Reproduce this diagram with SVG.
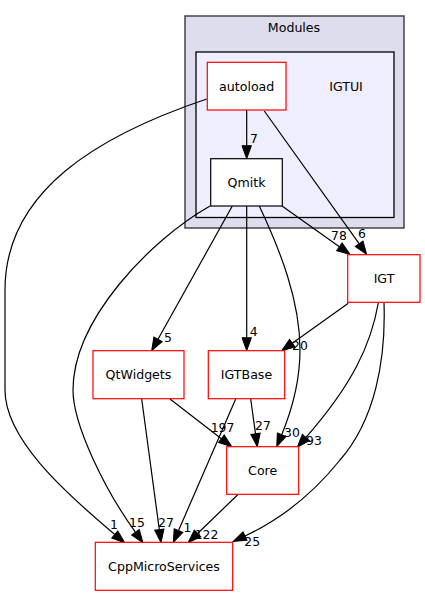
<svg xmlns="http://www.w3.org/2000/svg" width="425" height="596" viewBox="0 0 425 596">
<style>
text{font-family:"DejaVu Sans","Liberation Sans",sans-serif;fill:#000}
.nl{font-size:12.6px;text-anchor:middle}
.el{font-size:12.4px;text-anchor:middle}
.node{fill:#fff;stroke:#f00;stroke-width:1.2}
.nodeb{fill:#fff;stroke:#000;stroke-width:1.2}
.e{fill:none;stroke:#000;stroke-width:1.2;marker-end:url(#ah)}
</style>
<defs>
<marker id="ah" markerUnits="userSpaceOnUse" markerWidth="13" markerHeight="9.4" viewBox="0 0 13 9.4" refX="0" refY="4.7" orient="auto" overflow="visible">
<path d="M0,0 L13,4.7 L0,9.4 z" fill="#000" stroke="#000" stroke-width="1"/>
</marker>
</defs>
<g id="cluster-modules">
<rect x="185" y="16" width="219" height="212" fill="#ddddee" stroke="#444" stroke-width="1.5"/>
<text class="nl" x="294" y="32">Modules</text>
</g>
<g id="cluster-igtui">
<rect x="196" y="52" width="198" height="165.5" fill="#eeeeff" stroke="#000" stroke-width="1.3"/>
<text class="nl" x="346" y="90.7">IGTUI</text>
</g>
<g id="connectors">
<path class="e" d="M246.7,110 L246.7,145.7"/>
<text class="el" x="254" y="143.3">7</text>
<path class="e" d="M264.3,111 L359.1,243.7"/>
<text class="el" x="362" y="238.3">6</text>
<path class="e" d="M206.7,99 C100,135 5,190 5,290 L5,390 C5,438 62,490 114.8,534.5"/>
<text class="el" x="114" y="529">1</text>
<path class="e" d="M282,206 L339.4,246.8"/>
<text class="el" x="339" y="239.5">78</text>
<path class="e" d="M232.3,206 L158,339.3"/>
<text class="el" x="168" y="341.7">5</text>
<path class="e" d="M246.7,206 L246.7,337.7"/>
<text class="el" x="253.7" y="336">4</text>
<path class="e" d="M259.3,206 C280,250 300,300 300,350 C300,385 289,417 281.7,434.7"/>
<text class="el" x="292" y="437.3">30</text>
<path class="e" d="M210,206 C150,240 73,320 73,390 C73,425 105,490 135.4,532.2"/>
<text class="el" x="137" y="526.7">15</text>
<path class="e" d="M348.3,303.3 L292.3,343.2"/>
<text class="el" x="300" y="350">20</text>
<path class="e" d="M378.3,303 C371,345 352,385 305.9,437.5"/>
<text class="el" x="314" y="445.3">93</text>
<path class="e" d="M384,303 C386,360 375,420 340,460 C320,485 290,515 245,536"/>
<text class="el" x="252.2" y="546">25</text>
<path class="e" d="M170,399 L221.4,438.7"/>
<text class="el" x="222.5" y="432.3">197</text>
<path class="e" d="M141.7,399 L159.3,529.6"/>
<text class="el" x="166" y="527.3">27</text>
<path class="e" d="M250.7,399 L255.5,433.8"/>
<text class="el" x="263" y="430">27</text>
<path class="e" d="M235.7,399 L178.5,530.6"/>
<text class="el" x="187.5" y="532.3">1</text>
<path class="e" d="M237.7,494.7 L197.6,533.5"/>
<text class="el" x="206.5" y="539.3">122</text>
</g>
<g id="node-autoload">
<rect class="node" x="207.3" y="62.3" width="78.7" height="47.7"/>
<text class="nl" x="246.7" y="90.7">autoload</text>
</g>
<g id="node-qmitk">
<rect class="nodeb" x="210.7" y="158.7" width="71.6" height="47.3"/>
<text class="nl" x="246.5" y="186.8">Qmitk</text>
</g>
<g id="node-igt">
<rect class="node" x="347.7" y="254.7" width="72.3" height="47.6"/>
<text class="nl" x="384" y="282.8">IGT</text>
</g>
<g id="node-qtwidgets">
<rect class="node" x="93" y="350.7" width="91" height="48"/>
<text class="nl" x="138.5" y="379.2">QtWidgets</text>
</g>
<g id="node-igtbase">
<rect class="node" x="208.3" y="350.7" width="76.4" height="48"/>
<text class="nl" x="246.5" y="379.2">IGTBase</text>
</g>
<g id="node-core">
<rect class="node" x="226.7" y="446.7" width="72" height="47.6"/>
<text class="nl" x="262.7" y="475">Core</text>
</g>
<g id="node-cppmicroservices">
<rect class="node" x="95.3" y="542.3" width="137.4" height="48"/>
<text class="nl" x="164" y="570.8">CppMicroServices</text>
</g>
</svg>
